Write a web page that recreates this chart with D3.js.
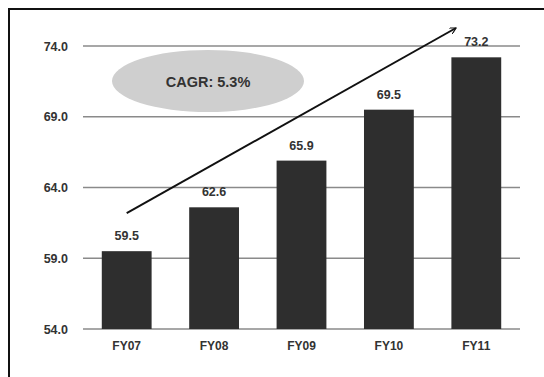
<!DOCTYPE html>
<html>
<head>
<meta charset="utf-8">
<script src="https://cdn.jsdelivr.net/npm/d3@7"></script>
<style>
  html, body { margin: 0; padding: 0; background: #ffffff; }
  svg { display: block; }
  text { font-family: "Liberation Sans", Arial, sans-serif; font-weight: bold; fill: #333333; }
</style>
</head>
<body>
<script>
// Revenue by fiscal year
const categories = ["FY07", "FY08", "FY09", "FY10", "FY11"];
const values = [59.5, 62.6, 65.9, 69.5, 73.2];
const yTicks = [54.0, 59.0, 64.0, 69.0, 74.0];
const cagrLabel = "CAGR: 5.3%";

const W = 544, H = 377;
const svg = d3.select("body").append("svg").attr("width", W).attr("height", H);

// outer frame (left and top edges visible)
svg.append("rect").attr("x", 9).attr("y", 9).attr("width", W + 10).attr("height", H + 10)
  .attr("fill", "#fff").attr("stroke", "#111").attr("stroke-width", 2);

const x = d3.scaleBand().domain(categories).range([83, 520]).paddingInner(0.43).paddingOuter(0.215);
const y = d3.scaleLinear().domain([54, 74]).range([329, 46]);

// horizontal gridlines
svg.append("g").selectAll("line").data(yTicks).join("line")
  .attr("x1", 83).attr("x2", 520)
  .attr("y1", d => y(d)).attr("y2", d => y(d))
  .attr("stroke", "#8a8a8a").attr("stroke-width", 1.5);

// y-axis labels
const yAxis = d3.axisLeft(y).tickValues(yTicks).tickFormat(d3.format(".1f")).tickSize(0).tickPadding(0);
const ya = svg.append("g").attr("transform", "translate(68,0)").call(yAxis);
ya.select(".domain").remove();
ya.selectAll("text").attr("font-size", 12.5).attr("font-family", null);
ya.attr("font-family", null).attr("font-size", null);

// bars
svg.append("g").selectAll("rect").data(values).join("rect")
  .attr("x", (d, i) => x(categories[i]))
  .attr("width", x.bandwidth())
  .attr("y", d => y(d))
  .attr("height", d => y(54) - y(d))
  .attr("fill", "#2e2e2e");

// value labels
svg.append("g").selectAll("text").data(values).join("text")
  .attr("x", (d, i) => x(categories[i]) + x.bandwidth() / 2)
  .attr("y", d => y(d) - 11)
  .attr("text-anchor", "middle")
  .attr("font-size", 12.5)
  .text(d => d.toFixed(1));

// category axis
const xAxis = d3.axisBottom(x).tickSize(0).tickPadding(0);
const xa = svg.append("g").attr("transform", "translate(0,342)").call(xAxis);
xa.select(".domain").remove();
xa.attr("font-family", null).attr("font-size", null);
xa.selectAll("text").attr("font-size", 12).attr("dy", "0.7em");

// CAGR ellipse
svg.append("ellipse").attr("cx", 208).attr("cy", 81).attr("rx", 96).attr("ry", 31).attr("fill", "#cfcfcf");
svg.append("text").attr("x", 208).attr("y", 82).attr("dy", "0.35em").attr("text-anchor", "middle")
  .attr("font-size", 14.5).text(cagrLabel);

// growth arrow
const defs = svg.append("defs");
defs.append("marker").attr("id", "arrowhead").attr("viewBox", "0 0 10 10")
  .attr("refX", 9).attr("refY", 5).attr("markerWidth", 7).attr("markerHeight", 7)
  .attr("markerUnits", "userSpaceOnUse").attr("orient", "auto")
  .append("path").attr("d", "M0,0 L9,5 L0,10").attr("fill", "none").attr("stroke", "#111").attr("stroke-width", 1.6);
svg.append("line")
  .attr("x1", x(categories[0]) + x.bandwidth() / 2).attr("y1", y(values[0]) - 38)
  .attr("x2", 456).attr("y2", 28)
  .attr("stroke", "#111").attr("stroke-width", 2)
  .attr("marker-end", "url(#arrowhead)");
</script>
</body>
</html>
